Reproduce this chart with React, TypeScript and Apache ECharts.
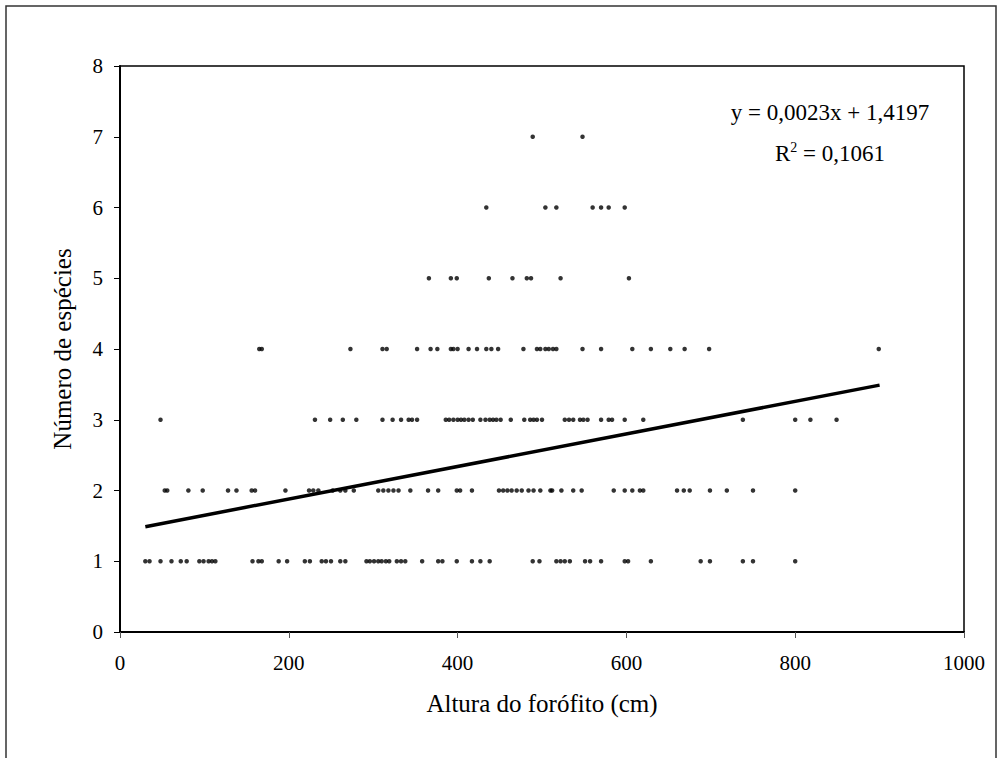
import { useEffect, useRef } from "react";
import * as echarts from "echarts";

// Host-tree height (cm) of each sampled phorophyte, grouped by the number of epiphyte species found on it
const species1 = [30, 35, 48, 61, 72, 79, 94, 99, 105, 109, 113, 157, 164, 168, 188, 198, 219, 225, 239, 244, 250, 261, 267, 292, 296, 301, 306, 310, 315, 319, 328, 333, 338, 358, 377, 382, 399, 417, 427, 438, 489, 497, 517, 522, 527, 533, 551, 557, 570, 598, 602, 629, 688, 699, 738, 750, 800];
const species2 = [53, 56, 81, 98, 128, 138, 156, 160, 196, 224, 229, 235, 252, 261, 267, 277, 306, 312, 318, 324, 330, 344, 365, 377, 399, 403, 417, 449, 454, 459, 464, 470, 476, 484, 490, 498, 510, 512, 523, 537, 547, 585, 598, 607, 616, 620, 660, 668, 675, 699, 719, 750, 800];
const species3 = [48, 231, 249, 264, 280, 311, 323, 333, 342, 346, 352, 386, 390, 395, 400, 404, 408, 413, 418, 427, 433, 438, 442, 446, 451, 463, 479, 486, 490, 494, 500, 527, 532, 537, 545, 549, 554, 570, 579, 583, 598, 620, 738, 800, 818, 849];
const species4 = [165, 168, 273, 311, 316, 352, 368, 376, 392, 395, 400, 413, 423, 434, 440, 448, 478, 494, 498, 504, 508, 513, 517, 548, 570, 607, 629, 652, 669, 698, 899];
const species5 = [366, 392, 399, 437, 465, 482, 487, 522, 603];
const species6 = [434, 504, 517, 560, 570, 579, 598];
const species7 = [489, 548];

const speciesGroups: number[][] = [species1, species2, species3, species4, species5, species6, species7];

// Linear trend as reported on the chart
const slope = 0.0023;
const intercept = 1.4197;
const rSquared = "0,1061";
const trendRange = [30, 900];

const xTitle = "Altura do forófito (cm)";
const yTitle = "Número de espécies";

const serif = "'Liberation Serif', 'Times New Roman', serif";

export default function App() {
  const ref = useRef<HTMLDivElement>(null);

  useEffect(() => {
    document.body.style.margin = "0";
    if (!ref.current) return;
    const chart = echarts.init(ref.current, undefined, { renderer: "svg" });

    const points: number[][] = [];
    speciesGroups.forEach((xs, i) => xs.forEach((x) => points.push([x, i + 1])));

    const trend = trendRange.map((x) => [x, slope * x + intercept]);
    const fmt = (v: number) => v.toFixed(4).replace(".", ",");

    chart.setOption({
      animation: false,
      backgroundColor: "#ffffff",
      textStyle: { fontFamily: serif },
      grid: {
        left: 120,
        right: 37,
        top: 66,
        bottom: 126,
        show: true,
        borderColor: "#000",
        borderWidth: 1.5,
        backgroundColor: "transparent",
      },
      xAxis: {
        type: "value",
        min: 0,
        max: 1000,
        interval: 200,
        name: xTitle,
        nameLocation: "middle",
        nameGap: 59,
        nameTextStyle: { fontFamily: serif, fontSize: 25, color: "#000" },
        axisLine: { show: true, lineStyle: { color: "#000", width: 2 } },
        axisTick: { show: true, length: 6, lineStyle: { color: "#555", width: 1 } },
        axisLabel: {
          fontFamily: serif,
          fontSize: 21,
          color: "#000",
          margin: 20,
          formatter: (v: number) => String(v),
        },
        splitLine: { show: false },
      },
      yAxis: {
        type: "value",
        min: 0,
        max: 8,
        interval: 1,
        name: yTitle,
        nameLocation: "middle",
        nameGap: 45,
        nameTextStyle: { fontFamily: serif, fontSize: 25, color: "#000" },
        axisLine: { show: true, lineStyle: { color: "#000", width: 2 } },
        axisTick: { show: true, length: 6, lineStyle: { color: "#000", width: 1 } },
        axisLabel: { fontFamily: serif, fontSize: 21, color: "#000", margin: 17 },
        splitLine: { show: false },
      },
      graphic: [
        {
          type: "rect",
          shape: { x: 6, y: 6, width: 990, height: 800 },
          style: { fill: "none", stroke: "#333", lineWidth: 1.5 },
          silent: true,
          z: -1,
        },
        {
          type: "text",
          x: 830,
          y: 112,
          style: {
            text: `y = ${fmt(slope)}x + ${fmt(intercept)}`,
            fontFamily: serif,
            fontSize: 23,
            fill: "#000",
            align: "center",
            verticalAlign: "middle",
          },
        },
        {
          type: "text",
          x: 830,
          y: 153,
          style: {
            text: `R{sup|2} = ${rSquared}`,
            fontFamily: serif,
            fontSize: 23,
            fill: "#000",
            align: "center",
            verticalAlign: "middle",
            rich: {
              sup: { fontFamily: serif, fontSize: 14, verticalAlign: "top", padding: [0, 0, 12, 0] },
            },
          },
        },
      ],
      series: [
        {
          type: "scatter",
          data: points,
          symbol: "circle",
          symbolSize: 4.5,
          itemStyle: { color: "#000" },
          z: 3,
        },
        {
          type: "line",
          data: trend,
          symbol: "none",
          lineStyle: { color: "#000", width: 3.5 },
          z: 2,
        },
      ],
    });

    return () => chart.dispose();
  }, []);

  return <div ref={ref} style={{ width: 1001, height: 758 }} />;
}
